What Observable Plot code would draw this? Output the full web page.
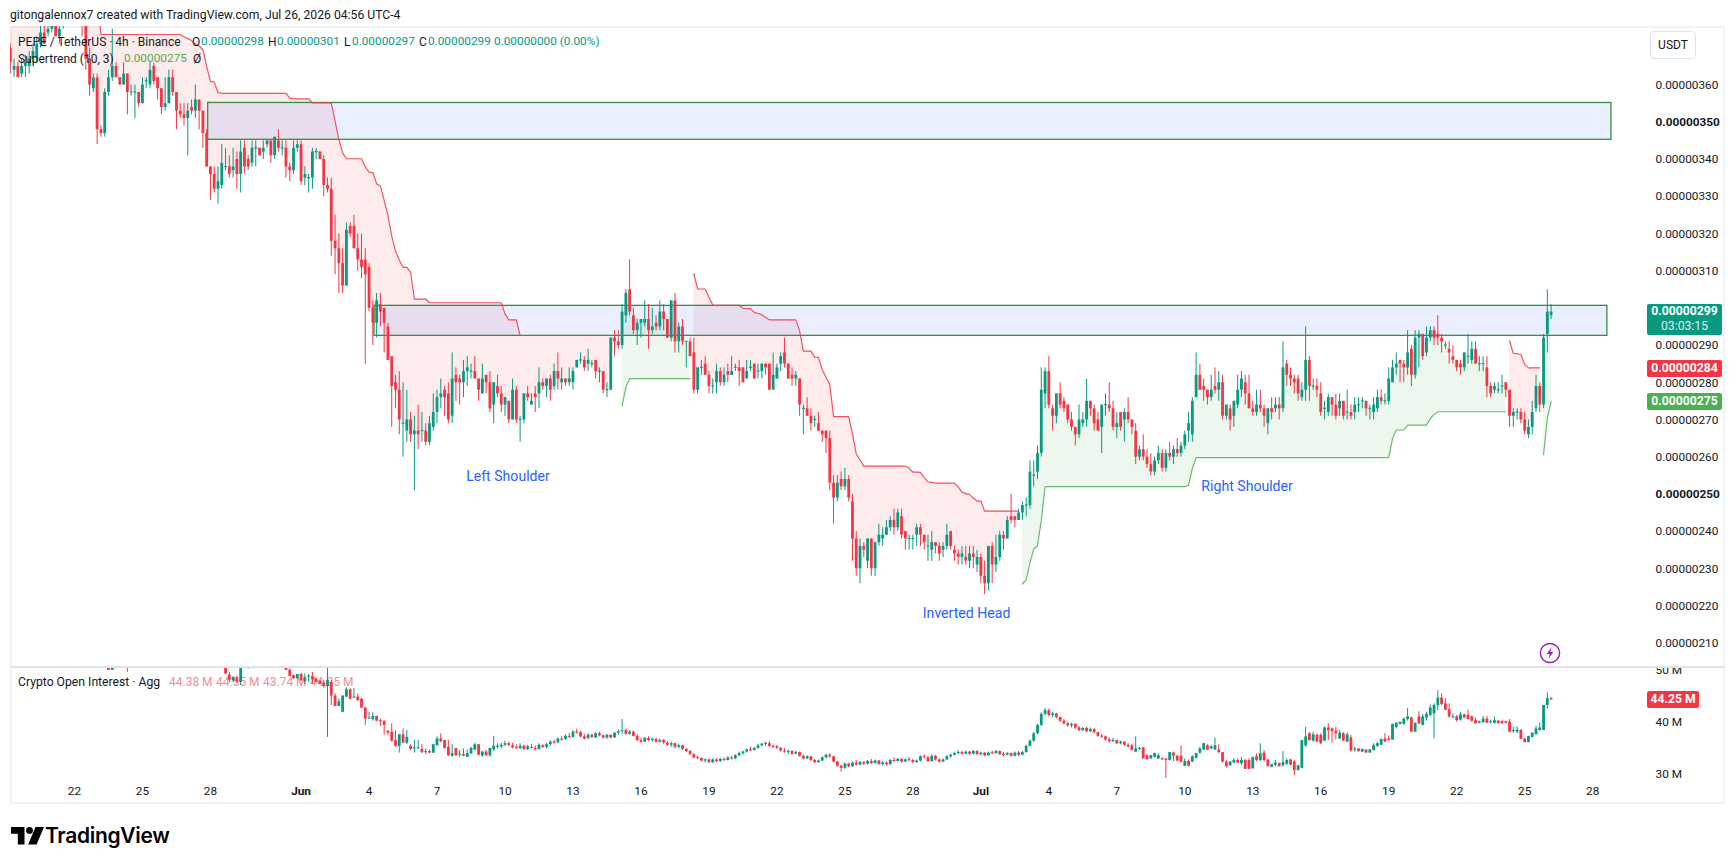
<!DOCTYPE html>
<html><head><meta charset="utf-8">
<script src="https://cdn.jsdelivr.net/npm/d3@7"></script>
<script src="https://cdn.jsdelivr.net/npm/@observablehq/plot@0.6"></script>
<style>
html,body{margin:0;padding:0;background:#fff;width:1736px;height:866px;overflow:hidden;font-family:Roboto,"Liberation Sans",sans-serif;color:#131722}
.t{position:absolute;white-space:pre;line-height:1;font-size:12px;z-index:5}
.box{position:absolute;color:#fff;text-align:center;font-size:12.2px;font-weight:700;border-radius:2px;z-index:5}
#frame{position:absolute;left:9.5px;top:26px;width:1715px;height:778px;border:2px solid #f0f3fa;box-sizing:border-box}
#div{position:absolute;left:10px;top:666px;width:1715px;height:1.5px;background:#e0e3eb;z-index:4}
</style></head><body>
<div id="frame"></div>
<div id="root"></div>
<div id="div"></div>
<script>
// PEPE/USDT 4h candles, [open, high, low, close], in units of 0.00000001
const pepeBarsA=[[370,371,363,366],[364,367,362,365],[365,366,362,362],[363,367,362,365],[365,368,362,366],[365,369,363,367],[367,371,366,369],[367,373,366,371],[371,376,370,374],[374,378,371,371],[374,378,373,375],[375,380,374,377],[377,380,373,373],[373,378,371,375],[376,381,375,380],[380,384,378,382],[382,385,378,379],[379,383,377,381],[381,384,379,380],[380,382,373,378],[378,380,364,367],[367,370,357,360],[359,363,358,362],[362,363,344,348],[348,349,346,347],[347,359,346,358],[358,364,357,362],[362,375,361,365],[365,366,362,362],[362,362,360,360],[360,366,360,363],[363,363,352,358],[358,360,357,358],[358,360,351,358],[358,358,354,355],[355,362,355,360],[361,362,359,361],[360,366,359,364],[365,366,360,361],[362,362,356,359],[359,359,352,354],[354,362,353,355],[355,364,355,362],[362,364,357,358],[358,358,348,353],[353,355,351,352],[352,355,349,351],[351,355,341,353],[354,356,352,353],[353,360,351,356],[356,356,348,353],[353,353,343,347],[347,348,338,338],[338,338,329,336],[336,338,331,332],[332,338,328,334],[333,344,332,339],[338,343,337,338],[338,341,335,336],[337,343,335,338]];
const pepeBarsB=[[340,342,332,336],[336,345,331,342],[343,345,336,338],[340,341,337,338],[339,345,338,343],[343,345,338,343],[343,343,341,341],[342,345,340,343],[344,345,343,345],[345,345,339,341],[341,346,340,346],[345,348,342,343],[343,345,341,343],[343,345,335,338],[338,339,334,337],[337,345,336,343],[343,345,342,344],[344,345,333,334],[335,338,333,336],[335,336,331,335],[335,343,332,342],[342,343,340,342],[342,342,340,340],[340,341,330,333],[333,335,331,332],[332,335,314,318],[318,325,309,316],[316,320,304,312],[312,316,304,306],[306,323,306,321],[322,323,319,320],[322,325,316,316],[316,320,310,313],[313,320,308,311],[313,316,285,309],[311,312,299,300],[300,302,290,296],[296,304,292,302],[301,304,295,299],[300,300,288,296],[295,296,286,286],[287,287,268,279],[280,282,273,278],[278,283,266,270],[269,280,260,269],[267,278,264,270],[270,272,264,266],[266,271,251,267],[267,274,262,266],[267,272,264,267],[267,269,263,264],[264,271,263,269],[268,277,267,272],[272,278,269,276],[276,281,273,277],[278,279,271,276],[277,280,269,270],[271,288,269,281],[282,284,275,280],[281,282,274,280]];
const pepeBarsC=[[280,286,276,283],[283,287,279,284],[283,285,281,283],[283,287,281,281],[281,281,275,278],[277,285,277,281],[282,282,277,280],[280,283,272,273],[274,280,269,280],[279,282,276,277],[277,279,272,274],[274,276,271,276],[275,275,269,270],[270,281,270,278],[278,279,269,270],[270,271,264,270],[270,277,269,277],[277,279,275,276],[274,277,274,275],[277,279,272,276],[277,284,273,280],[280,281,278,279],[279,281,276,281],[281,282,275,278],[279,285,278,283],[283,288,278,281],[280,284,278,281],[281,281,279,280],[280,284,279,281],[280,284,278,283],[284,286,284,286],[286,288,285,286],[286,287,283,284],[285,289,283,286],[285,286,284,285],[286,286,281,283],[283,284,280,283],[283,283,277,278],[278,280,276,278],[278,292,278,292],[292,294,287,291],[291,294,289,290],[290,301,289,299],[298,305,296,304],[305,313,298,299],[298,300,293,294],[294,297,290,296],[296,297,292,297],[296,302,295,297],[297,301,289,294],[294,300,293,295],[296,298,294,295],[295,302,294,299],[299,301,294,297],[297,297,292,292],[292,302,291,302],[302,304,288,291],[291,296,288,295],[295,297,290,291],[291,291,284,291],[291,292,287,287],[288,292,277,278],[278,284,277,284]];
const pepeBarsD=[[284,286,282,284],[285,287,282,282],[282,283,277,279],[279,281,277,279],[280,285,277,283],[283,284,279,280],[280,284,279,282],[283,285,280,282],[282,287,282,283],[284,285,283,284],[284,286,279,283],[284,284,280,280],[281,286,281,283],[284,286,283,284],[285,285,281,281],[283,285,281,283],[283,285,281,285],[285,285,282,284],[285,285,278,278],[278,288,278,282],[281,285,281,284],[285,288,283,287],[288,292,284,285],[285,285,281,281],[282,284,279,281],[281,283,279,282],[281,281,271,274],[273,274,266,273],[273,276,271,271],[271,273,267,269],[270,271,268,270],[269,272,267,267],[267,267,264,266],[267,267,261,265],[265,267,251,253],[253,255,242,249],[249,255,248,253],[254,256,251,252],[252,257,251,254],[254,255,248,249]];
const pepeBarsE=[[248,250,232,238],[238,240,228,230],[230,238,226,236],[236,237,233,235],[232,238,230,238],[238,238,228,230],[230,237,228,237],[237,242,236,239],[238,241,236,239],[239,243,239,241],[241,244,240,243],[243,246,239,241],[241,246,240,245],[244,246,238,239],[240,240,235,238],[238,239,235,238],[238,239,235,238],[239,242,236,241],[241,242,236,239],[239,239,235,237],[236,239,232,236],[235,240,232,237],[237,237,234,236],[236,237,232,234],[235,237,233,236],[236,242,235,239],[240,240,235,236],[235,236,232,234],[234,235,231,233],[233,236,231,234],[233,236,231,232],[232,236,230,234],[234,236,230,233],[231,235,229,233],[233,234,226,228],[228,232,223,226],[226,236,224,236],[236,237,226,231],[231,239,229,233],[233,240,232,239],[239,240,235,238],[238,244,238,243],[244,250,242,243],[244,244,241,243],[243,246,243,245],[245,248,243,247],[247,249,244,247],[247,259,246,256],[255,259,252,255],[256,263,254,261],[261,284,260,278],[277,284,273,283],[283,287,273,274],[273,274,267,271],[271,277,269,277],[277,280,273,274],[275,276,272,273],[274,274,269,270],[270,272,267,268],[268,268,263,266],[266,274,265,270],[269,272,268,270],[270,281,268,275],[275,275,271,273],[273,274,267,269],[270,272,267,267],[268,274,261,274],[274,277,271,274],[274,280,272,273],[273,275,267,268],[268,272,265,269],[272,272,267,268],[270,273,264,272],[272,276,269,270],[270,270,266,268],[267,269,258,260],[260,263,259,262]];
const pepeBarsF=[[262,266,259,260],[260,262,257,258],[258,261,255,256],[256,260,255,259],[259,263,258,261],[261,262,256,257],[257,262,256,261],[261,264,259,260],[260,263,258,262],[262,265,260,261],[261,264,260,263],[263,267,262,266],[267,272,264,269],[266,276,264,275],[276,288,276,282],[282,285,278,278],[279,281,275,278],[278,278,274,276],[276,282,275,278],[279,284,277,278],[278,283,275,280],[280,282,270,271],[271,274,270,274],[273,274,267,270],[271,275,268,275],[274,282,273,278],[278,283,276,281],[280,282,274,277],[277,282,273,273],[273,275,271,272],[272,278,271,274],[274,278,272,273],[273,274,268,271],[269,273,266,273],[273,276,270,272],[273,276,272,274],[274,276,270,273],[273,291,272,284],[285,286,279,282],[282,284,279,281],[281,282,277,280],[281,282,275,277],[276,280,275,278],[278,295,275,286],[286,287,275,279],[279,281,278,279],[279,281,276,278],[277,280,271,272],[273,275,270,273],[272,277,271,276],[276,276,271,274],[274,277,270,271],[273,277,271,275],[275,275,270,271],[272,278,270,272],[272,274,270,271],[272,276,270,274],[274,276,272,274],[275,276,273,275],[275,275,271,273],[273,274,270,273],[272,276,270,274],[273,278,272,276],[276,278,274,275],[275,277,274,275],[275,284,274,281],[280,286,280,284],[284,288,282,285],[286,286,280,285],[285,286,280,284],[284,294,282,288]];
const pepeBarsG=[[289,290,279,282],[282,294,281,292],[292,294,284,293],[293,293,286,287],[288,295,287,292],[292,295,291,294],[294,295,290,292],[293,298,290,292],[292,293,288,291],[290,291,289,290],[289,291,285,288],[287,290,285,286],[286,286,283,284],[285,286,282,284],[284,288,283,288],[287,293,285,287],[286,291,285,289],[289,291,285,285],[285,287,283,285],[285,287,283,285],[284,287,276,279],[279,280,276,277],[278,280,277,279],[278,280,277,278],[279,282,277,279],[280,280,276,278],[278,278,268,271],[271,273,268,272],[272,273,270,272],[272,273,269,270],[270,272,266,267],[266,270,265,268],[268,275,266,272],[273,282,272,279],[279,280,272,274],[274,293,273,292],[293,305,288,299],[298,301,297,299]];

// Supertrend (10, 3) plateaus and steps: [band value, number of bars]
const stRedA=[[385,24],[373.6,22],[373,1],[372.5,1],[372,1],[371,1],[370.5,1],[369.5,1],[365,1],[361,1],[360.8,1],[358,1],[357.8,18],[356.5,1],[356.3,5],[355.2,6],[350.3,1],[345.4,1],[341.8,1],[340.2,5],[338,1],[336.6,1],[336.5,1],[333.5,1],[332.9,1],[329,1],[325,1],[319.5,1],[315.4,1],[313,1],[311,2],[309.7,1],[302.5,4],[301.5,20],[298.5,1],[296.9,3],[292.7,26]];
const stGreenA=[[273.7,1],[278.8,1],[281.1,17]];
const stRedB=[[309.3,1],[305.2,3],[303,1],[300.9,1],[300.8,7],[300,1],[299.9,2],[298.9,1],[298.6,1],[298.3,1],[297.6,1],[296.9,8],[294,1],[288.5,3],[286.9,1],[286.8,1],[283.5,1],[281.5,1],[279.5,1],[270.9,5],[266.3,1],[260.9,1],[259.3,1],[257.6,12],[257,1],[256,2],[255.9,1],[254.5,1],[253.4,1],[253.2,1],[253,6],[252,1],[250.6,1],[250.2,1],[250,1],[249,1],[248.2,2],[245.5,10]];
const stGreenB=[[225.9,1],[227,1],[231.5,1],[235.3,1],[236.2,1],[243,1],[252,1],[252.1,37],[252.4,1],[257,1],[259.9,52],[265,1],[267.3,3],[268.6,6],[270.3,1],[271.5,1],[272.2,19]];
const stRedC=[[291.3,1],[287.9,1],[287.8,1],[287.6,1],[285,1],[284,4]];
const stGreenC=[[260.7,1],[270.5,1],[275,1]];
const stStarts={redA:0,greenA:162,redB:181,greenB:268,redC:397,greenC:406};

// Crypto Open Interest (millions), [open, high, low, close]; bars above the pane are not readable and are left out
const oiStartA=26, oiStartB=55, oiStartC=73;
const oiBarsA=[[52,53,49.9,49.9],[49.9,52,49.9,52],[52,54,51,53],[53,55,52,54],[54,55,52,53],[53,54,49.5,52],[52,53,51,51.5],[52,53,50.3,52]];
const oiBarsB=[[52,53,50.3,50.5],[51,52,50.2,50.4],[51,52,49.1,49.2],[49,49.5,47.5,48],[47.9,48.7,47.6,48.5],[48.3,48.8,47.4,47.7],[47.6,52,47,50.5],[52,53,51,52],[52,53,50.1,52]];
const oiBarsC=[[51,52,49.9,49.9],[49.9,50.2,48.7,48.7],[48.9,49,48.2,48.3],[48.3,49.1,48.1,49.1],[49.1,49.3,47.8,47.9],[47.7,49.2,47.2,48.5],[48.7,49.1,47.6,48.7],[48.7,49.5,47.2,48.1],[48.2,48.5,47.5,47.6],[47.8,48,47.2,47.3],[47.5,48,46.5,46.8],[46.8,50.5,37.1,48],[47.6,48,43.2,45],[45,45.4,43,43],[43,44.4,43,43.9],[41.9,45,41.8,45],[44.8,46.6,44.7,46.2],[46.2,46.4,44.2,44.4],[44.7,46.4,44.6,44.7],[44.8,45.4,44,44.1],[44.4,44.6,42.6,42.7],[42.7,42.9,39.4,40.6],[40.7,41.9,40.6,40.7],[40.5,41.8,40.2,41.1],[41.1,41.1,40.1,40.2],[40.3,40.6,39.2,40.1],[40.1,40.3,37.5,39.4],[38.3,38.3,37.5,37.9],[38.1,39.7,36.2,36.4],[36.5,38.4,35.2,35.4],[35.4,37.6,34.1,37.6],[37.6,38.7,35.9,36],[36,38.4,35.7,37.1],[35.4,35.7,34.6,34.8],[35,36.5,34.1,35],[35,36.5,34.9,35],[34.8,35.7,34,34.2],[34.3,34.9,33.8,34.3],[34.4,34.7,34,34.1],[34.1,35.7,34,35.7],[35.5,37.2,35.5,36.8],[36.8,37.8,36.1,36.3],[36.5,36.5,34.9,35],[35.2,36.5,33.5,33.6],[33.5,35.7,33.3,34],[35,35,33.5,33.6],[33.8,34.6,33.3,33.8],[33.8,34.9,33.4,33.5],[33.3,34.7,33.3,34],[34,35.2,33.8,35],[34.7,36,34.6,35.7],[35.7,35.7,33.6,33.7],[33.6,34.4,33.3,34.3],[34.3,34.6,33.5,33.6],[33.6,35,33.3,35],[34.7,37.3,34.5,35.4],[35.3,35.9,34.9,35.3]];
const oiBarsD=[[35.3,36,34.9,35.6],[35.6,36.4,35.4,35.9],[35.9,36.2,35.3,35.6],[35.5,36,34.9,35.1],[35.2,35.7,34.8,35],[35,35.9,34.7,35.4],[35.4,35.6,34.6,34.8],[34.8,35.6,34.6,35.3],[35.2,35.8,34.9,35],[35,35.5,34.5,34.7],[34.8,35.9,34.7,35.6],[35.5,35.7,35,35.2],[35.2,35.9,34.9,35.7],[35.7,36.5,35.4,36.2],[36.2,36.6,35.8,36],[36.1,37,35.9,36.8],[36.7,37.2,36.4,36.6],[36.7,37.6,36.5,37.3],[37.3,37.9,36.9,37.1],[37.1,38.4,37,38.1],[38.1,38.7,37.7,38],[38,38.3,37,37.2],[37.2,37.7,36.6,36.8],[36.9,37.8,36.7,37.5],[37.5,37.7,36.9,37.1],[37,38,36.9,37.8],[37.8,38.1,37.2,37.4],[37.4,37.6,36.8,37],[37,37.7,36.7,37.5],[37.5,37.6,36.8,37],[37,38,36.9,37.9],[37.9,38.5,37.5,38.2],[38.2,40.5,37.6,38.4],[38.4,38.7,37.5,37.7],[37.7,38.4,37.5,38.1],[38.1,38.3,37.2,37.3],[37.3,37.6,36.3,36.5],[36.5,37,35.9,36.2],[36.2,37.1,36.1,36.9],[36.9,37.2,36.3,36.5],[36.5,37,36.2,36.7],[36.7,37,36,36.2],[36.2,36.8,36,36.5],[36.5,36.7,35.8,36],[36,36.3,35.4,35.6],[35.6,36.2,35.2,35.9],[35.9,36,35,35.2],[35.2,35.8,34.9,35.5],[35.5,35.6,34.6,34.8],[34.8,35,34.2,34.4],[34.4,34.6,33.6,33.8],[33.8,34,33,33.2],[33.2,33.5,32.8,33.1],[33.1,33.2,32.4,32.6],[32.6,33,32.2,32.8],[32.8,32.9,32.1,32.3],[32.3,33,32.1,32.8],[32.8,33,32.3,32.5],[32.5,33.1,32.3,32.9],[32.9,33.2,32.5,32.7],[32.7,33.4,32.6,33.2],[33.2,33.5,32.8,33],[33,33.8,32.9,33.6],[33.6,34.3,33.4,34],[34,34.5,33.7,34.3],[34.3,34.9,34.1,34.7],[34.7,35.2,34.4,34.6],[34.6,35.2,34.5,35],[35,35.8,34.8,35.5],[35.5,36,35.3,35.8],[35.8,36.2,35.4,35.9],[35.9,36.3,35.2,35.4],[35.4,35.6,34.9,35.3],[35.3,35.6,34.8,35],[35,35.2,34.3,34.5],[34.5,35,34.1,34.3],[34.3,34.7,33.8,34.4],[34.4,34.6,33.7,33.9],[33.9,34.5,33.8,34.2],[34.2,34.3,33.3,33.5],[33.5,33.7,32.8,33],[33,33.6,32.9,33.4],[33.4,33.5,32.5,32.7]];
const oiBarsE=[[32.7,32.9,32.1,32.3],[32.3,32.8,32.2,32.6],[32.6,33.4,32.5,33.2],[33.2,33.9,33,33.7],[33.7,34,33.1,33.4],[33.4,33.5,32.2,32.4],[32.4,32.5,31.4,31.6],[31.6,31.8,30.5,31.2],[31.2,32.2,31,32],[32,32.2,31.3,31.5],[31.5,32.4,31.4,32.2],[32.2,32.7,31.6,31.8],[31.8,32.5,31.7,32.3],[32.3,32.5,31.7,32],[32,32.7,31.8,32.5],[32.5,32.9,31.9,32.1],[32.1,32.8,32,32.6],[32.6,32.7,31.8,31.9],[31.9,32.5,31.7,32.2],[32.2,32.4,31.6,31.9],[31.9,32.9,31.8,32.7],[32.7,33.2,32.3,32.5],[32.5,33.1,32.4,32.9],[32.9,33,32.2,32.4],[32.4,33,32.3,32.8],[32.8,33.3,32.5,32.7],[32.7,32.9,32.1,32.3],[32.3,32.8,32.1,32.6],[32.6,33.6,32.4,33.4],[33.4,33.8,33,33.2],[33.2,33.5,32.3,32.5],[32.5,33.8,32.4,33.5],[33.5,33.7,32.6,32.8],[32.8,33,32.2,32.4],[32.4,33,32.3,32.8],[32.8,33.6,32.7,33.4],[33.4,33.9,33.1,33.7],[33.7,34.3,33.5,34],[34,34.6,33.8,34.2],[34.2,34.5,33.7,33.9],[33.9,34.5,33.8,34.3],[34.3,34.4,33.7,33.9],[33.9,34.6,33.8,34.4],[34.4,34.6,33.7,33.8],[33.8,34.3,33.5,34.1],[34.1,34.2,33.4,33.6],[33.6,34.3,33.5,34.1],[34.1,34.5,33.8,34],[34,34.6,33.9,34.4],[34.4,34.5,33.7,33.8],[33.8,34.2,33.4,33.7],[33.7,34.2,33.6,34],[34,34.1,33.3,33.5],[33.5,34.3,33.4,34.1],[34.1,34.4,33.5,33.7],[33.7,34.4,33.6,34.2],[34.2,35.6,34.1,35.4],[35.4,36.6,35.3,36.4],[36.4,38,36.2,37.8],[37.8,39.6,37.6,39.4],[39.4,41.8,39.2,41.5],[41.5,42.6,41.2,42.2],[42.2,42.5,41,41.3],[41.3,41.9,40.8,41.6],[41.6,41.7,40.6,40.9],[40.9,41,39.9,40.2],[40.2,40.5,39.5,39.7],[39.7,40,39,39.3],[39.3,39.8,38.9,39.6],[39.6,39.7,38.6,38.9],[38.9,39.2,38.2,38.4],[38.4,39,38.2,38.8],[38.8,39.1,38,38.2],[38.2,38.9,38,38.6],[38.6,38.8,37.7,38],[38,38.1,37.1,37.3],[37.3,37.7,36.9,37.2],[37.2,37.4,36.4,36.6],[36.6,37,36,36.3],[36.3,36.9,36.1,36.5],[36.5,36.6,35.7,35.9],[35.9,36.4,35.7,36.2],[36.2,36.3,35.4,35.6],[35.6,35.9,35.1,35.3]];
const oiBarsF=[[35.5,35.8,34.5,34.6],[34.3,37.2,34.2,34.9],[34.9,35.2,34.6,34.9],[35.1,35.2,33,33],[33.6,33.8,32.8,32.8],[33,33.7,32.9,33.6],[33.3,34.1,33.2,34],[33,34,32.9,33.6],[33,33.3,32.7,32.8],[33,33,29.2,32.7],[32.7,34.2,32.6,34.2],[34.1,34.3,32.5,33.5],[33.5,33.7,32.5,32.6],[33.5,35.5,32.2,32.4],[31.6,33,31.5,32.5],[32.5,32.8,31.5,31.6],[32.4,33.6,32.3,33.4],[33.1,34.1,33,34],[34.1,35.2,33.9,34.9],[34.7,36,34.6,35.9],[35.5,35.7,34.6,34.7],[34.9,35.5,34.8,35.3],[34.7,37,34.6,35.5],[34.7,35.7,34,34.2],[34.2,34.2,32.2,32.4],[32.4,32.7,31.3,31.5],[31.7,32.5,31.6,32.4],[32.2,33.1,32.1,32.7],[32.7,33,32.1,32.2],[32.1,33.3,31.7,32.7],[32.7,32.9,31,31],[32.7,33,30.9,31],[31.1,33.3,31.1,33.3],[33.4,33.9,32.5,32.7],[32.7,35.9,32.5,34],[34.1,34.6,32.4,32.7],[32.8,32.8,31.5,31.5],[31.4,31.9,31.3,31.9],[31.8,32.7,31.5,32.2],[32.1,32.2,31.5,31.5],[31.7,34.4,31.4,32.3],[32,33,31.7,32.7],[32.8,32.9,31.7,31.8],[32.4,32.7,29.8,30.8],[30.8,31.8,30.7,31.7],[31.2,36.5,31.1,36.5],[35.5,39,35.2,37.2],[37.8,38,36.4,36.5],[36.4,38.1,36.2,37.6],[37.5,37.8,36.1,36.2],[37.5,37.8,35.7,35.9],[36.4,39.1,36.3,38.9],[38.9,39.7,36.5,38.4],[38.7,38.9,36,38.2],[38.3,39,36.6,37.8],[36.8,38.4,36.7,37.9]];
const oiBarsG=[[37.8,38,36.3,36.4],[36.2,38,36.1,37.6],[37,37.5,34.3,34.5],[34.8,35.2,34.3,34.8],[34.9,34.9,34.3,34.4],[34.3,34.9,34.2,34.8],[34.7,34.7,34.1,34.1],[34.1,34.8,34.1,34.7],[34.6,35.9,34.5,35.5],[35.4,36.2,35.2,35.9],[35.6,36.8,35.5,36.7],[36.8,37.8,36.1,36.2],[36.8,37.4,36.4,36.5],[36.6,39.6,36.6,39.6],[39,39.9,38.7,39.8],[39.6,40,39.5,40],[39.6,40.8,39.4,40.6],[40.5,42.6,40.2,41],[40.8,41,38.1,38.1],[38.1,39.8,38.1,39.8],[41,42,39.5,39.7],[39.4,41.5,39.3,41],[40.8,41.9,40.2,41.5],[41.3,43.3,41,42.7],[41.6,43.5,36.8,43.2],[43.2,46,42.2,44.6],[44.6,45.4,43.2,43.4],[43.5,44.5,42.2,42.3],[42.4,43.5,40.8,41],[40.8,41.6,40.7,41],[41,41.3,40,40.3],[40.4,41.9,40.2,41.4],[41.4,41.5,40.8,40.8],[41.3,42.3,40.5,40.5],[41,41.2,40,40.2],[40.3,40.8,39.6,39.7],[39.8,40.2,39.7,40.1],[39.9,41.1,39.8,40.6],[40.6,41.1,39.7,39.8],[40,40.4,39.7,40],[39.8,41,39.6,40.3],[40.2,40.3,39.7,39.7],[40.1,40.4,39.6,39.7],[40.1,40.2,39.7,39.8],[40,40.5,38,38.1],[38.3,39,37.9,38.3],[38.1,39.1,37.8,38.5],[38.5,38.5,36.7,36.7],[36.8,36.8,36.1,36.1],[36.1,37.2,36.1,37.3],[37.1,38,37,37.9],[37.6,39.2,37.6,38.7],[38.4,39.9,38.3,38.9],[38.4,43.2,38.4,43.2],[43.2,45.6,42.5,44.5],[44.5,44.7,44.2,44.25]];

// Zones: [start day, end day, low price, high price], days counted from May 22
const zoneUpper=[5.90,67.83,345.3,355.2];
const zoneLower=[13.24,67.65,292.6,300.67];
const patternNames=["Left Shoulder","Inverted Head","Right Shoulder"];
const patternDays=[19.13,39.37,51.75];
const patternPrices=[254.8,218.0,252.1];

const priceTicks=[360,340,330,320,310,290,280,270,260,240,230,220,210];
const priceTicksBold=[350,250];
const oiTicks=[50,40,30];
const dayTicks=[[0,"22"],[3,"25"],[6,"28"],[13,"4"],[16,"7"],[19,"10"],[22,"13"],[25,"16"],[28,"19"],[31,"22"],[34,"25"],[37,"28"],[43,"4"],[46,"7"],[49,"10"],[52,"13"],[55,"16"],[58,"19"],[61,"22"],[64,"25"],[67,"28"]];
const monthTicks=[[10,"Jun"],[40,"Jul"]];

const DAY=864e5, ORIGIN=Date.UTC(2026,4,22), LAST=Date.UTC(2026,6,26,4);
const dayDate=d=>new Date(ORIGIN+d*DAY);
const barDate=k=>new Date(LAST-(408-k)*4*36e5);
const xDomain=[dayDate(-2.824),dayDate(69.2)];
const GREEN="#089981",RED="#f23645";
const W=1736;

const toBars=(rows,start,minH)=>rows.map((r,i)=>{
  const [o,h,l,c]=r, k=start+i;
  let lo=Math.min(o,c),hi=Math.max(o,c);
  if(hi-lo<minH){const m=(hi+lo)/2;lo=m-minH/2;hi=m+minH/2;}
  return {k,x:barDate(k),o,h,l,c,lo,hi,mid:(o+c)/2,up:c>=o};
});
const pepe=toBars([...pepeBarsA,...pepeBarsB,...pepeBarsC,...pepeBarsD,...pepeBarsE,...pepeBarsF,...pepeBarsG],0,0.3);
const oiTail=[...oiBarsD,...oiBarsE,...oiBarsF,...oiBarsG];
const oi=[...toBars(oiBarsA,oiStartA,.2),...toBars(oiBarsB,oiStartB,.2),...toBars([...oiBarsC,...oiTail],oiStartC,.2)];

const expand=(runs,start,seg)=>{const out=[];let k=start;for(const [v,n] of runs)for(let j=0;j<n;j++,k++)if(pepe[k])out.push({x:pepe[k].x,band:v,mid:pepe[k].mid,seg});return out;};
const redBand=[...expand(stRedA,stStarts.redA,"a"),...expand(stRedB,stStarts.redB,"b"),...expand(stRedC,stStarts.redC,"c")];
const greenBand=[...expand(stGreenA,stStarts.greenA,"a"),...expand(stGreenB,stStarts.greenB,"b"),...expand(stGreenC,stStarts.greenC,"c")];

const font='Roboto,"Liberation Sans",sans-serif';
const candles=(data)=>[
  Plot.ruleX(data.filter(d=>d.up),{x:"x",y1:"l",y2:"h",stroke:GREEN,strokeWidth:1,clip:true}),
  Plot.ruleX(data.filter(d=>!d.up),{x:"x",y1:"l",y2:"h",stroke:RED,strokeWidth:1,clip:true}),
  Plot.ruleX(data.filter(d=>d.up),{x:"x",y1:"lo",y2:"hi",stroke:GREEN,strokeWidth:2.8,clip:true}),
  Plot.ruleX(data.filter(d=>!d.up),{x:"x",y1:"lo",y2:"hi",stroke:RED,strokeWidth:2.8,clip:true})
];
const zoneMark=z=>Plot.rect([z],{x1:d=>dayDate(d[0]),x2:d=>dayDate(d[1]),y1:d=>d[2],y2:d=>d[3],fill:"#2962ff",fillOpacity:.1,stroke:"#388e3c",strokeWidth:1.3,clip:true});
const ax=(ticks,extra={})=>Plot.axisY(ticks,{anchor:"right",tickSize:0,tickPadding:13,fill:"#131722",fontSize:11.8,label:null,...extra});
const fmtPrice=v=>(v/1e8).toFixed(8);
const root=document.getElementById("root");
const place=(svg,top)=>{svg.style.position="absolute";svg.style.left="0";svg.style.top=top+"px";svg.style.background="transparent";root.appendChild(svg);};

place(Plot.plot({
  width:W,height:640.5,marginLeft:10,marginRight:94,marginTop:0,marginBottom:0,
  style:{fontFamily:font,overflow:"visible"},
  x:{type:"utc",domain:xDomain,axis:null},
  y:{domain:[203.6,375.75],axis:null},
  marks:[
    Plot.areaY(redBand,{x:"x",y1:"band",y2:"mid",z:"seg",fill:RED,fillOpacity:.1,clip:true}),
    Plot.areaY(greenBand,{x:"x",y1:"band",y2:"mid",z:"seg",fill:"#4caf50",fillOpacity:.1,clip:true}),
    zoneMark(zoneUpper),zoneMark(zoneLower),
    Plot.line(redBand,{x:"x",y:"band",z:"seg",stroke:RED,strokeWidth:1.2,strokeOpacity:.85,clip:true}),
    Plot.line(greenBand,{x:"x",y:"band",z:"seg",stroke:"#4caf50",strokeWidth:1.2,strokeOpacity:.85,clip:true}),
    ...candles(pepe),
    Plot.text(patternNames,{x:(d,i)=>dayDate(patternDays[i]),y:(d,i)=>patternPrices[i],text:d=>d,fill:"#2962ff",fontSize:14.1}),
    ax(priceTicks,{tickFormat:fmtPrice}),
    ax(priceTicksBold,{tickFormat:fmtPrice,fontWeight:700})
  ]
}),26);

place(Plot.plot({
  width:W,height:111,marginLeft:10,marginRight:94,marginTop:0,marginBottom:0,
  style:{fontFamily:font,overflow:"hidden"},
  x:{type:"utc",domain:xDomain,axis:null},
  y:{domain:[29.26,50.44],axis:null},
  marks:[...candles(oi),ax(oiTicks,{tickFormat:v=>v+" M"})]
}),667);

place(Plot.plot({
  width:W,height:26,marginLeft:10,marginRight:94,marginTop:0,marginBottom:0,
  style:{fontFamily:font,overflow:"visible"},
  x:{type:"utc",domain:xDomain,axis:null},
  y:{domain:[0,1],axis:null},
  marks:[
    Plot.text(dayTicks,{x:d=>dayDate(d[0]),y:0.5,text:d=>d[1],fill:"#131722",fontSize:11.8}),
    Plot.text(monthTicks,{x:d=>dayDate(d[0]),y:0.5,text:d=>d[1],fill:"#131722",fontSize:11.8,fontWeight:700})
  ]
}),778);

// Page furniture: header, legends, price tags, logo
const texts=[
 ["gitongalennox7 created with TradingView.com, Jul 26, 2026 04:56 UTC-4",10,9,"#131722",12.2],
 ["PEPE / TetherUS · 4h · Binance",18,36,"#131722",12],
 ["O",192,36,"#131722",12],["0.00000298",201,36,GREEN,11.8],
 ["H",268,36,"#131722",12],["0.00000301",277,36,GREEN,11.8],
 ["L",344,36,"#131722",12],["0.00000297",352,36,GREEN,11.8],
 ["C",419,36,"#131722",12],["0.00000299",428,36,GREEN,11.8],
 ["0.00000000 (0.00%)",494,36,GREEN,11.8],
 ["Supertrend (10, 3)",18,53,"#131722",12],["0.00000275",124,53,"#4caf50",11.8],["Ø",193,53,"#131722",12],
 ["Crypto Open Interest · Agg",18,676,"#131722",12.2],
 ["44.38 M",169,676,"#f2364599",12],["44.55 M",216,676,"#f2364599",12],["43.74 M",263,676,"#f2364599",12],["44.25 M",310,676,"#f2364599",12]
];
for(const [s,x,y,c,fs] of texts){const e=document.createElement("div");e.className="t";e.textContent=s;e.style.cssText=`left:${x}px;top:${y}px;color:${c};font-size:${fs}px`;document.body.appendChild(e);}
const tags=[
 [GREEN,304,31,75,'0.00000299<br><span style="font-weight:400;opacity:.85">03:03:15</span>',1647],
 [RED,360,17,75,'0.00000284',1647],
 ["#4caf50",393,17,75,'0.00000275',1647],
 [RED,691,17,52,'44.25 M',1647]
];
for(const [bg,t,h,w,html,l] of tags){const e=document.createElement("div");e.className="box";e.innerHTML=html;e.style.cssText=`left:${l}px;top:${t}px;width:${w}px;height:${h}px;background:${bg};line-height:${h>20?15:h}px`;document.body.appendChild(e);}
document.body.insertAdjacentHTML("beforeend",`
<div style="position:absolute;left:1650px;top:31px;width:44px;height:26px;border:1px solid #e0e3eb;border-radius:4px;font-size:12px;line-height:26px;text-align:center;background:#fff;z-index:5">USDT</div>
<svg style="position:absolute;left:1539px;top:642px;z-index:5" width="22" height="22" viewBox="0 0 22 22"><circle cx="11" cy="11" r="9.6" fill="#fff" stroke="#9c27b0" stroke-width="1.5"/><path d="M12.6 5.2 7.6 12h3l-1.2 4.8 5-6.8h-3z" fill="#9c27b0"/></svg>
<svg style="position:absolute;left:11px;top:827px" width="34" height="18" viewBox="0 0 34 18"><path d="M0 0h13.5v17.5H6.8V6.8H0z" fill="#000"/><circle cx="18.5" cy="3.4" r="3.4" fill="#000"/><path d="M24.5 0h8.5L25.6 17.5h-8.5z" fill="#000"/></svg>
<div style="position:absolute;left:45px;top:824px;font-family:Inter,Roboto,sans-serif;font-weight:600;font-size:21px;line-height:24px;letter-spacing:-.3px;color:#000">TradingView</div>`);
</script>
</body></html>
